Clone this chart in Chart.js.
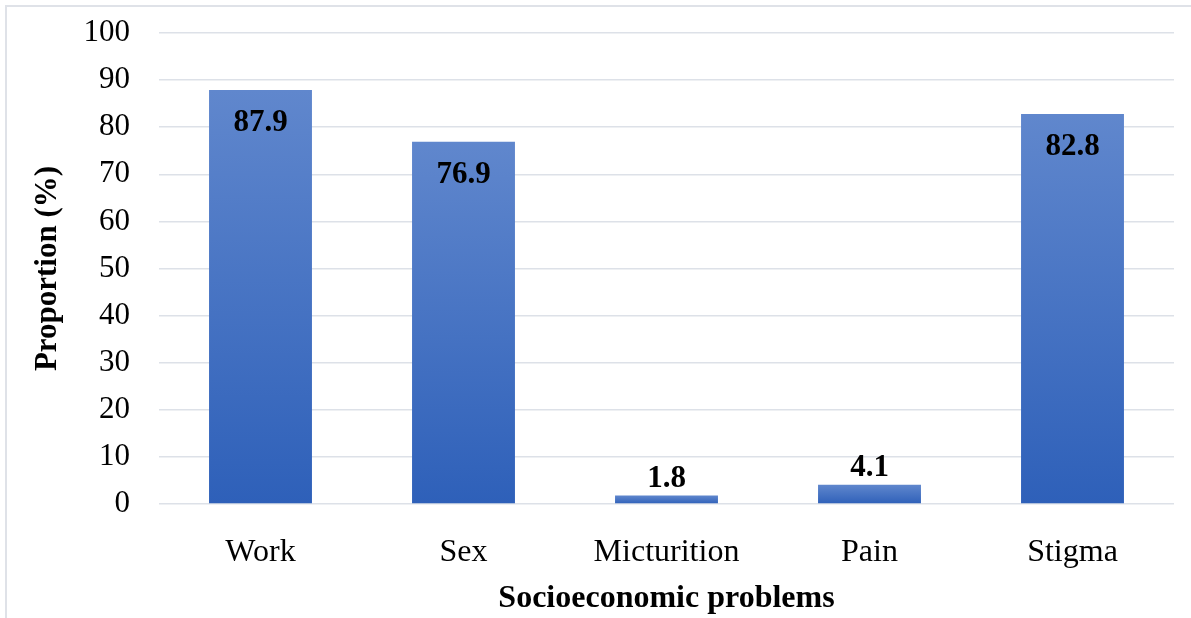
<!DOCTYPE html>
<html>
<head>
<meta charset="utf-8">
<script src="https://cdn.jsdelivr.net/npm/chart.js@4/dist/chart.umd.min.js"></script>
<style>
  html, body { margin: 0; padding: 0; background: #ffffff; }
  #wrap { width: 1191px; height: 618px; position: relative; }
</style>
</head>
<body>
<div id="wrap"><canvas id="chart" width="1191" height="618"></canvas></div>
<script>
const categories = ['Work', 'Sex', 'Micturition', 'Pain', 'Stigma'];
const proportions = [87.9, 76.9, 1.8, 4.1, 82.8];
const yTicks = [0, 10, 20, 30, 40, 50, 60, 70, 80, 90, 100];

const SERIF = '"Liberation Serif", "Times New Roman", serif';

// Vertical gradient per bar: lighter at the top, deeper blue at the base
function barGradient(ctx) {
  const chart = ctx.chart;
  if (!chart.chartArea || ctx.parsed == null) return '#4472c4';
  const y = chart.scales.y;
  const top = y.getPixelForValue(ctx.parsed.y);
  const base = y.getPixelForValue(0);
  const g = chart.ctx.createLinearGradient(0, top, 0, base);
  g.addColorStop(0, '#6087cd');
  g.addColorStop(1, '#2e60b9');
  return g;
}

// Frame around the figure
const framePlugin = {
  id: 'frame',
  beforeDraw(chart) {
    const c = chart.ctx;
    c.save();
    c.fillStyle = '#ffffff';
    c.fillRect(0, 0, chart.width, chart.height);
    c.strokeStyle = '#dfe2e8';
    c.lineWidth = 2;
    c.strokeRect(6, 6, chart.width + 50, chart.height + 50);
    c.restore();
  }
};

// Value labels: inside the top of tall bars, above short ones
const valueLabels = {
  id: 'valueLabels',
  afterDatasetsDraw(chart) {
    const c = chart.ctx;
    const meta = chart.getDatasetMeta(0);
    c.save();
    c.font = 'bold 31px ' + SERIF;
    c.fillStyle = '#000000';
    c.textAlign = 'center';
    c.textBaseline = 'middle';
    meta.data.forEach((bar, i) => {
      const v = proportions[i];
      const y = v > 10 ? bar.y + 33 : bar.y - 17;
      c.fillText(v.toFixed(1), bar.x, y);
    });
    c.restore();
  }
};

new Chart(document.getElementById('chart'), {
  type: 'bar',
  data: {
    labels: categories,
    datasets: [{
      data: proportions,
      backgroundColor: barGradient,
      borderWidth: 0,
      categoryPercentage: 1,
      barPercentage: 0.507
    }]
  },
  options: {
    responsive: false,
    animation: false,
    devicePixelRatio: 1,
    layout: { padding: { left: 0, right: 17, top: 33, bottom: 0 } },
    plugins: {
      legend: { display: false },
      tooltip: { enabled: false }
    },
    scales: {
      x: {
        grid: { display: false, drawTicks: false },
        border: { display: false },
        ticks: {
          color: '#000000',
          font: { family: SERIF, size: 32 },
          padding: 29,
          maxRotation: 0
        },
        title: {
          display: true,
          text: 'Socioeconomic problems',
          color: '#000000',
          font: { family: SERIF, size: 32, weight: 'bold' },
          padding: { top: 0, bottom: 0 }
        },
        afterFit(scale) {
          scale.height = 114;
          scale.paddingLeft = 0;
          scale.paddingRight = 0;
        }
      },
      y: {
        min: 0,
        max: 100,
        afterBuildTicks(scale) { scale.ticks = yTicks.map(v => ({ value: v })); },
        grid: { color: '#dde1e8', lineWidth: 1.5, drawTicks: false },
        border: { display: false },
        ticks: {
          color: '#000000',
          font: { family: SERIF, size: 31 },
          padding: 29
        },
        title: {
          display: true,
          text: 'Proportion (%)',
          color: '#000000',
          font: { family: SERIF, size: 31, weight: 'bold' },
          padding: { top: 29, bottom: 0 }
        },
        afterFit(scale) {
          scale.width = 159;
          scale.paddingTop = 0;
          scale.paddingBottom = 0;
        }
      }
    }
  },
  plugins: [framePlugin, valueLabels]
});
</script>
</body>
</html>
